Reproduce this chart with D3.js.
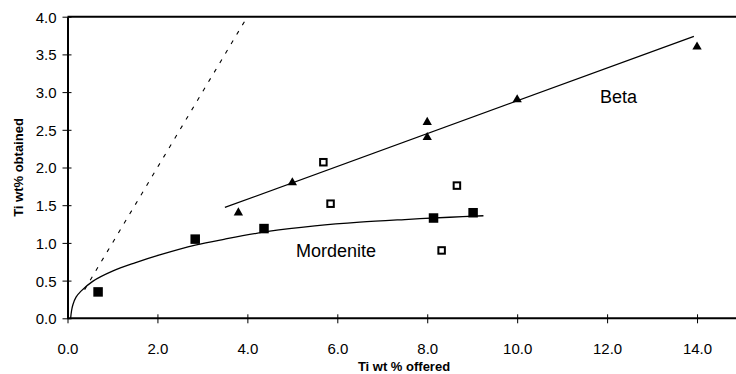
<!DOCTYPE html>
<html>
<head>
<meta charset="utf-8">
<script src="https://cdn.jsdelivr.net/npm/d3@7"></script>
<style>
  html, body { margin: 0; padding: 0; background: #fff; }
  svg { display: block; font-family: "Liberation Sans", Arial, sans-serif; }
</style>
</head>
<body>
<svg id="chart" width="736" height="374"></svg>
<script>
// Beta zeolite (filled triangles)
const betaX = [3.8, 5.0, 8.0, 8.0, 10.0, 14.0];
const betaY = [1.40, 1.80, 2.60, 2.40, 2.90, 3.60];
// Mordenite (filled squares)
const mordX = [0.68, 2.84, 4.37, 8.14, 9.02];
const mordY = [0.35, 1.05, 1.19, 1.33, 1.40];
// Additional samples (open squares)
const openX = [5.69, 5.85, 8.66, 8.32];
const openY = [2.07, 1.52, 1.76, 0.90];
// Mordenite trend curve
const mordCurveX = [0.07, 0.09, 0.12, 0.19, 0.3, 0.56, 1.0, 1.5, 2.05, 2.84, 3.5, 4.5, 5.5, 6.5, 7.5, 8.5, 9.25];
const mordCurveY = [0.0, 0.10, 0.18, 0.28, 0.36, 0.49, 0.625, 0.735, 0.84, 0.97, 1.05, 1.155, 1.225, 1.275, 1.31, 1.34, 1.36];
// Beta trend line end points
const betaLineX = [3.5, 13.93];
const betaLineY = [1.47, 3.74];
// 1:1 reference line
const parityRange = [0.38, 4.0];
// Axis ticks
const xTicks = [0, 2, 4, 6, 8, 10, 12, 14];
const yTicks = [0, 0.5, 1.0, 1.5, 2.0, 2.5, 3.0, 3.5, 4.0];

const svg = d3.select("#chart");
const x = d3.scaleLinear().domain([0, 15]).range([67.5, 742]);
const y = d3.scaleLinear().domain([0, 4]).range([318.3, 16.7]);
const fmt = d3.format(".1f");

// Frame top line
svg.append("line")
  .attr("x1", x(0)).attr("x2", 736)
  .attr("y1", y(4)).attr("y2", y(4))
  .attr("stroke", "#000").attr("stroke-width", 2);

// X axis
const xAxis = svg.append("g")
  .attr("transform", `translate(0,${y(0)})`)
  .call(d3.axisBottom(x).tickValues(xTicks).tickFormat(fmt).tickSize(4).tickSizeOuter(0));
xAxis.select(".domain").attr("stroke-width", 2).attr("d", `M${x(0)},0H736`);
xAxis.selectAll(".tick line").attr("y1", -4).attr("y2", 5).attr("stroke-width", 1);
xAxis.selectAll(".tick text")
  .attr("y", 36).attr("dy", 0)
  .style("font-size", "15px").style("font-family", "Liberation Sans, Arial, sans-serif").attr("fill", "#000");

// Y axis
const yAxis = svg.append("g")
  .attr("transform", `translate(${x(0)},0)`)
  .call(d3.axisLeft(y).tickValues(yTicks).tickFormat(fmt).tickSize(5).tickSizeOuter(0));
yAxis.select(".domain").attr("stroke-width", 2);
yAxis.selectAll(".tick line").attr("x1", -5).attr("x2", 4).attr("stroke-width", 1);
yAxis.selectAll(".tick text")
  .attr("x", -11).attr("dy", "0.36em")
  .style("font-size", "15px").style("font-family", "Liberation Sans, Arial, sans-serif").attr("fill", "#000");

// Axis titles
svg.append("text")
  .attr("x", 404).attr("y", 371)
  .attr("text-anchor", "middle")
  .style("font-size", "13px").style("font-weight", "bold")
  .text("Ti wt % offered");
svg.append("text")
  .attr("transform", `translate(23,${(y(0) + y(4)) / 2}) rotate(-90)`)
  .attr("text-anchor", "middle")
  .style("font-size", "13px").style("font-weight", "bold")
  .text("Ti wt% obtained");

// 1:1 dashed reference line
svg.append("line")
  .attr("x1", x(parityRange[0])).attr("y1", y(parityRange[0]))
  .attr("x2", x(parityRange[1])).attr("y2", y(parityRange[1]))
  .attr("stroke", "#000").attr("stroke-width", 1.1)
  .attr("stroke-dasharray", "4,7");

// Beta trend line
svg.append("line")
  .attr("x1", x(betaLineX[0])).attr("y1", y(betaLineY[0]))
  .attr("x2", x(betaLineX[1])).attr("y2", y(betaLineY[1]))
  .attr("stroke", "#000").attr("stroke-width", 1.3);

// Mordenite trend curve
svg.append("path")
  .datum(mordCurveX.map((v, i) => [v, mordCurveY[i]]))
  .attr("fill", "none").attr("stroke", "#000").attr("stroke-width", 1.3)
  .attr("d", d3.line().x(d => x(d[0])).y(d => y(d[1])).curve(d3.curveCatmullRom.alpha(0.5)));

// Markers
const tri = d3.symbol().type(d3.symbolTriangle).size(38);
svg.append("g").selectAll("path")
  .data(betaX.map((v, i) => [v, betaY[i]]))
  .join("path")
  .attr("transform", d => `translate(${x(d[0])},${y(d[1])})`)
  .attr("d", tri).attr("fill", "#000");

svg.append("g").selectAll("rect")
  .data(mordX.map((v, i) => [v, mordY[i]]))
  .join("rect")
  .attr("x", d => x(d[0]) - 4.75).attr("y", d => y(d[1]) - 4.75)
  .attr("width", 9.5).attr("height", 9.5).attr("fill", "#000");

svg.append("g").selectAll("rect")
  .data(openX.map((v, i) => [v, openY[i]]))
  .join("rect")
  .attr("x", d => x(d[0]) - 3.25).attr("y", d => y(d[1]) - 3.25)
  .attr("width", 6.5).attr("height", 6.5)
  .attr("fill", "#fff").attr("stroke", "#000").attr("stroke-width", 2);

// Series labels
svg.append("text").attr("x", 600).attr("y", 103)
  .style("font-size", "18px").text("Beta");
svg.append("text").attr("x", 296).attr("y", 257)
  .style("font-size", "18px").text("Mordenite");
</script>
</body>
</html>
